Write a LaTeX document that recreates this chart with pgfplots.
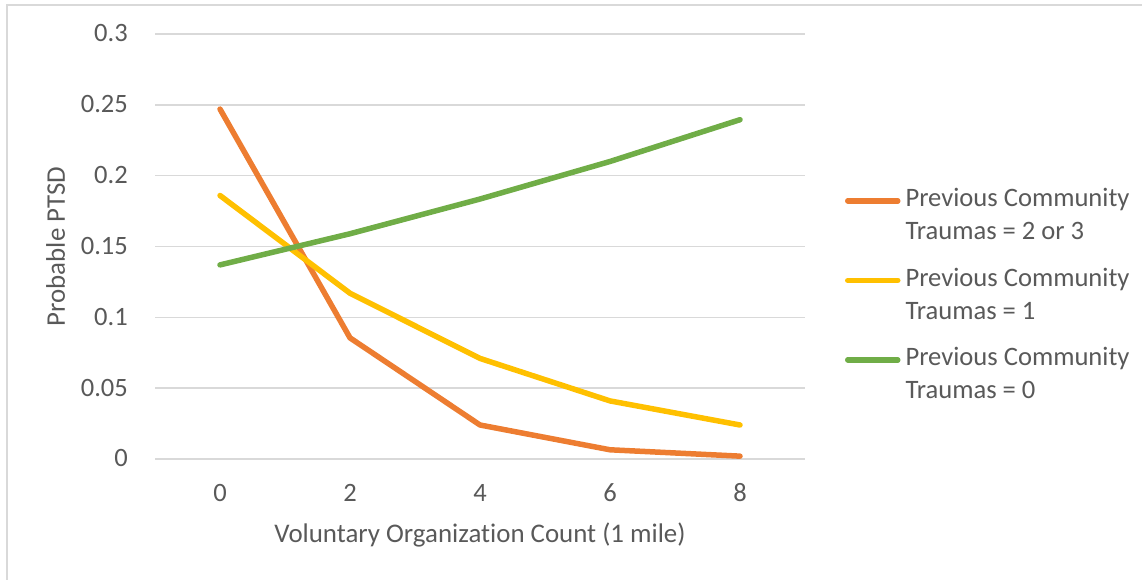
\documentclass[border=0pt]{standalone}
\usepackage{pgfplots}
\pgfplotsset{compat=1.18}
\usepackage{fontspec}
\setmainfont{Carlito}[Ligatures=NoCommon]
\definecolor{txt}{HTML}{595959}
\definecolor{gridc}{HTML}{D9D9D9}
\definecolor{sorange}{HTML}{ED7D31}
\definecolor{syellow}{HTML}{FFC000}
\definecolor{sgreen}{HTML}{70AD47}
\newcommand{\entry}[2]{\begin{tabular}[t]{@{}l@{}}#1\\#2\end{tabular}}
\begin{document}
\begin{tikzpicture}[x=1bp,y=1bp]
\useasboundingbox (0,0) rectangle (1142,580);
% chart area frame
\draw[gridc, line width=1.5bp] (7,-10) -- (7,575) -- (1150,575);
\begin{axis}[
  at={(155bp,121bp)}, anchor=south west,
  scale only axis, width=650bp, height=425bp,
  xmin=-1, xmax=9, ymin=0, ymax=0.3,
  xtick={0,2,4,6,8},
  ytick={0,0.05,0.1,0.15,0.2,0.25,0.3},
  yticklabels={0,0.05,0.1,0.15,0.2,0.25,0.3},
  axis line style={draw=none},
  major tick length=0pt,
  ymajorgrids, grid style={gridc, line width=1.5bp},
  font=\fontsize{26.6}{31}\selectfont,
  /pgf/number format/assume math mode=true,
  tick label style={text=txt, inner sep=0pt},
  yticklabel style={anchor=base east, xshift=-27bp, yshift=-8bp},
  xticklabel style={anchor=base, yshift=-43bp},
  xlabel={Voluntary Organization Count (1 mile)},
  ylabel={Probable PTSD},
  label style={text=txt, inner sep=0pt, font=\fontsize{27}{31}\selectfont},
  xlabel style={at={(axis description cs:0.5,-0.1976)}, anchor=base},
  ylabel style={at={(axis description cs:-0.1385,0.5)}, anchor=base, rotate=0},
  every axis plot/.append style={line width=5.5bp, line cap=round, line join=round},
  legend image code/.code={\draw[#1] (2.5bp,6bp) -- (52.5bp,6bp);},
  legend style={at={(axis description cs:1.06154,0.6473)}, anchor=north west,
    draw=none, fill=none, inner sep=0pt, outer sep=0pt,
    row sep=55bp, column sep=5bp,
    font=\fontsize{26.7}{33}\selectfont, text=txt,
    cells={anchor=base west},
    nodes={inner sep=0pt}},
]
\addplot[sorange] coordinates {(0,0.247) (2,0.0855) (4,0.024) (6,0.0065) (8,0.002)};
\addlegendentry{\entry{Previous Community}{Traumas = 2 or 3}}
\addplot[syellow] coordinates {(0,0.186) (2,0.117) (4,0.071) (6,0.041) (8,0.024)};
\addlegendentry{\entry{Previous Community}{Traumas = 1}}
\addplot[sgreen] coordinates {(0,0.137) (2,0.159) (4,0.1835) (6,0.210) (8,0.2395)};
\addlegendentry{\entry{Previous Community}{Traumas = 0}}
\end{axis}
\end{tikzpicture}
\end{document}
